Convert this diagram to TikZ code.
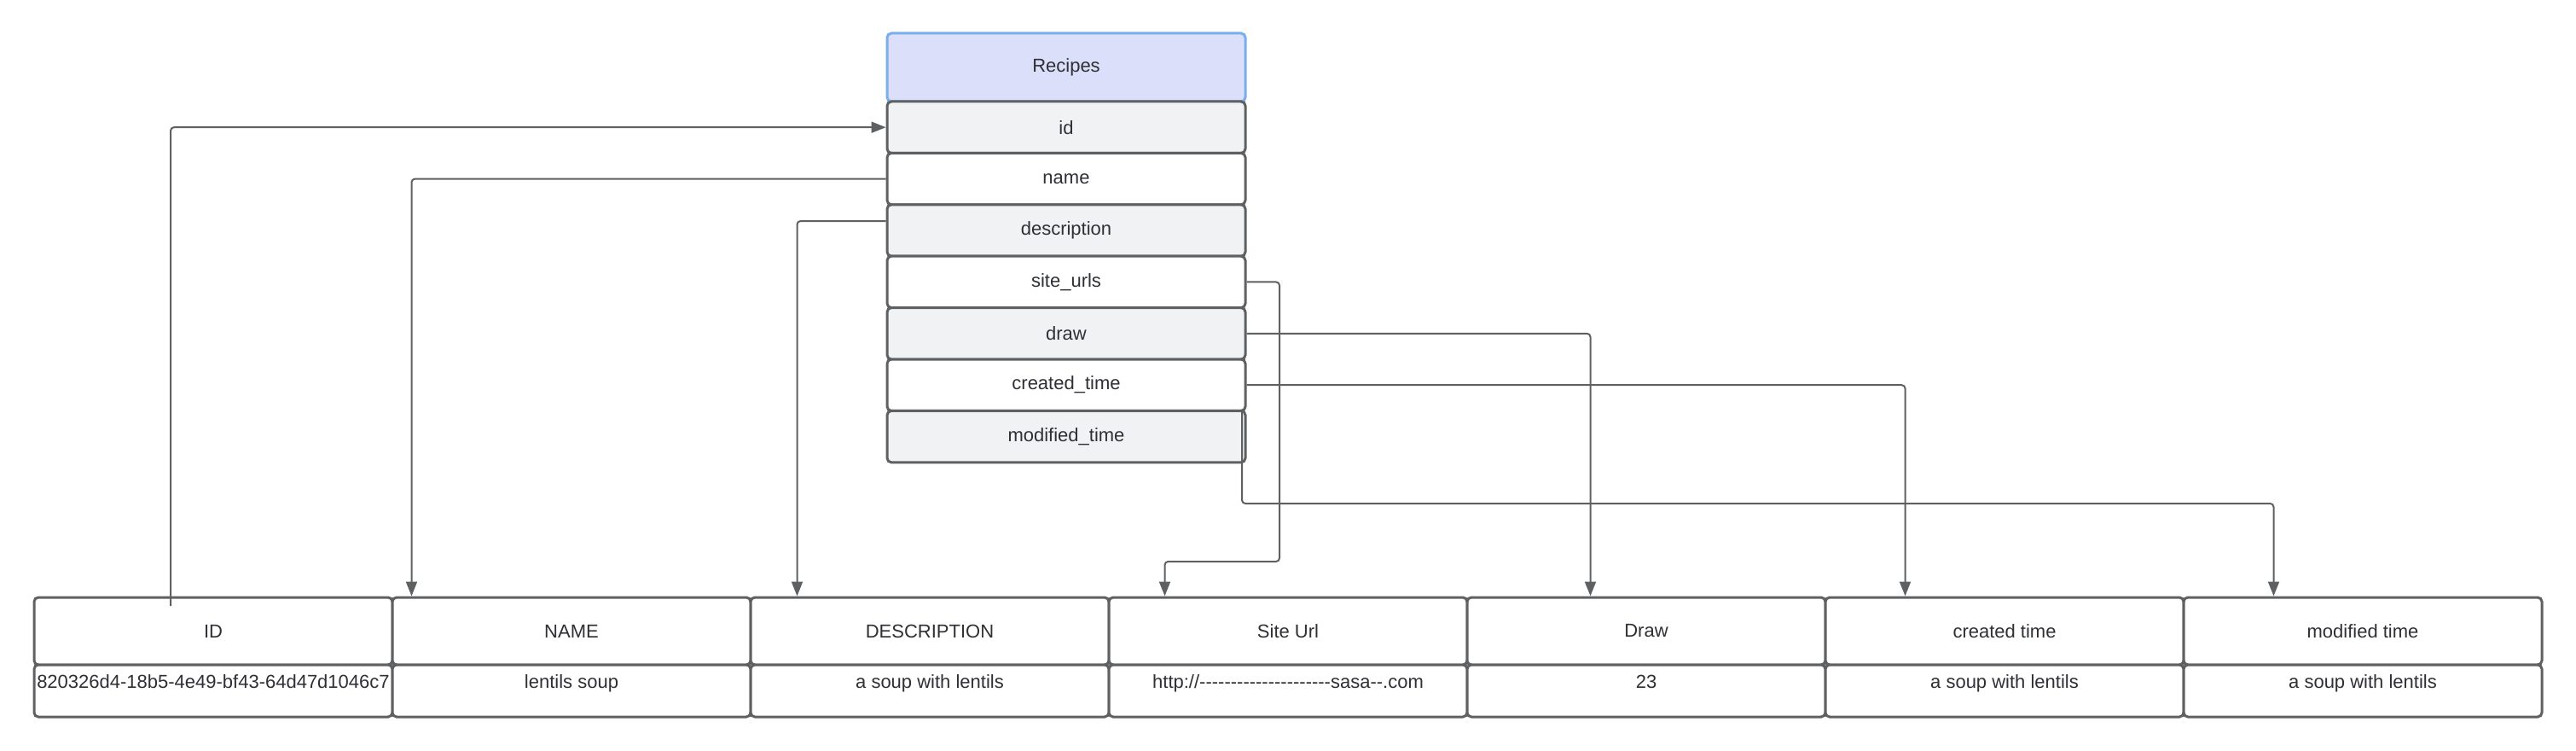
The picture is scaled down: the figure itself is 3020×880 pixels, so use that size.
\documentclass[tikz,border=0pt]{standalone}
\usepackage{fontspec}
\setmainfont{Liberation Sans}[Ligatures=TeXOff]
\usetikzlibrary{arrows.meta}
\definecolor{ln}{HTML}{5E6062}
\definecolor{hdrfill}{HTML}{DCDFFA}
\definecolor{hdrline}{HTML}{78AEEC}
\definecolor{rowgray}{HTML}{F0F2F3}
\definecolor{txt}{HTML}{2E3035}
\begin{document}
\begin{tikzpicture}[x=1pt,y=-1pt,
  cell/.style={draw=ln, line width=3pt, rounded corners=5pt, minimum width=420pt, inner sep=0pt,
    font=\fontsize{22}{26}\selectfont, text=txt, fill=white},
  hdr/.style={cell, draw=hdrline, fill=hdrfill, minimum height=80pt},
  grayrow/.style={cell, fill=rowgray, minimum height=60.4pt},
  whiterow/.style={cell, fill=white, minimum height=60.4pt},
  colhead/.style={cell, minimum height=79pt},
  colval/.style={cell, minimum height=61pt},
  vtext/.style={font=\fontsize{22}{26}\selectfont, text=txt, inner sep=0pt, text height=16pt, text depth=5pt},
  conn/.style={draw=ln, line width=2pt, rounded corners=4pt},
  tip/.style={-{Triangle[length=17pt,width=13pt]}}
]
\useasboundingbox (0,0) rectangle (3020,880);

% Recipes table
\node[hdr] (r-head) at (1250,79) {Recipes};
\node[grayrow]  (r-id)      at (1250,149.2) {id};
\node[whiterow] (r-name)    at (1250,209.6) {name};
\node[grayrow]  (r-desc)    at (1250,270.0) {description};
\node[whiterow] (r-site)    at (1250,330.4) {site\_urls};
\node[grayrow]  (r-draw)    at (1250,390.8) {draw};
\node[whiterow] (r-created) at (1250,451.2) {created\_time};
\node[grayrow]  (r-mod)     at (1250,511.6) {modified\_time};

% Bottom tables
\foreach \i/\nm/\hd in {0/id/ID, 1/name/NAME, 2/desc/DESCRIPTION, 3/site/Site Url,
                        4/draw/Draw, 5/created/created time, 6/mod/modified time}{
  \node[colhead] (b-\nm) at ({250+420*\i},739.5) {\hd};
  \node[colval] (v-\nm) at ({250+420*\i},809.5) {};
}
\node[vtext] (t-id)      at ([yshift=9pt]v-id.center) {820326d4-18b5-4e49-bf43-64d47d1046c7};
\node[vtext] (t-name)    at ([yshift=9pt]v-name.center) {lentils soup};
\node[vtext] (t-desc)    at ([yshift=9pt]v-desc.center) {a soup with lentils};
\node[vtext] (t-site)    at ([yshift=9pt]v-site.center) {http://---------------------sasa--.com};
\node[vtext] (t-draw)    at ([yshift=9pt]v-draw.center) {23};
\node[vtext] (t-created) at ([yshift=9pt]v-created.center) {a soup with lentils};
\node[vtext] (t-mod)     at ([yshift=9pt]v-mod.center) {a soup with lentils};

% Connectors
\coordinate (idsrc) at (200,710);
\draw[conn,tip] (idsrc) |- (r-id.west);
\draw[conn,tip] (r-name.west) -| ([xshift=24pt]b-name.north west);
\draw[conn,tip] ([yshift=11pt]r-desc.west) -| ([xshift=56pt]b-desc.north west);
\coordinate (sitebend) at (1500,658);
\draw[conn,tip] (r-site.east) -| (sitebend) -| ([xshift=67pt]b-site.north west);
\draw[conn,tip] (r-draw.east) -| ([xshift=146pt]b-draw.north west);
\draw[conn,tip] (r-created.east) -| ([xshift=95pt]b-created.north west);
\coordinate (modsrc) at (1456,482);
\coordinate (modbend) at (1456,590);
\draw[conn,tip] (modsrc) -- (modbend) -| ([xshift=107pt]b-mod.north west);
\end{tikzpicture}
\end{document}
